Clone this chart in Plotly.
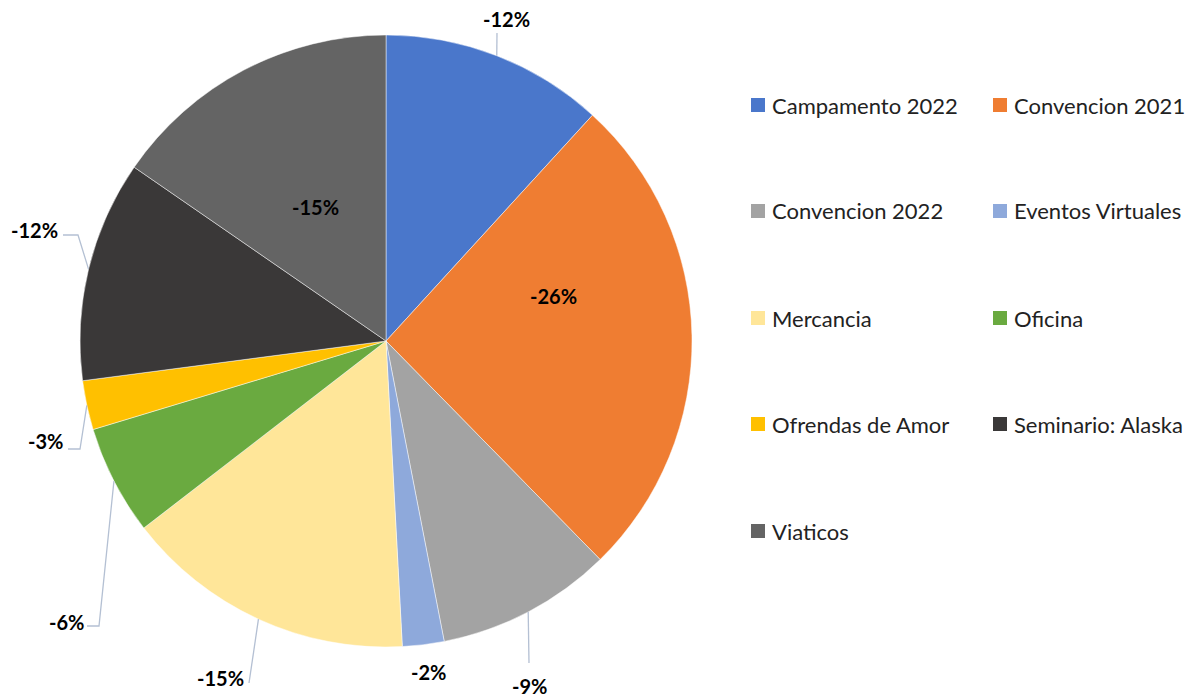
import math
import plotly.graph_objects as go

# ---------------- data ----------------
categories = ["Campamento 2022", "Convencion 2021", "Convencion 2022", "Eventos Virtuales",
              "Mercancia", "Oficina", "Ofrendas de Amor", "Seminario: Alaska", "Viaticos"]
values = [-11.8, -25.9, -9.3, -2.2, -15.4, -5.8, -2.6, -11.7, -15.4]

# ---------------- style ----------------
colors = ["#4A77CB", "#EF7D32", "#A3A3A3", "#8EA9DB", "#FFE699",
          "#6AAA40", "#FFC000", "#3A3838", "#646464"]

OFF = 8                      # page body margin
W, H = 1194 - OFF, 698 - OFF
CX, CY, R = 386, 341, 306    # pie center/radius in page pixels (layout)

# label centre (page px) and leader elbow points (page px) per slice; None = no leader
label_pos = [(506, 19), (553, 296), (529, 686), (428, 672), (220, 678),
             (66, 622), (45, 441), (34, 230), (315, 207)]
leaders = [[(497, 33)], None, [(529, 663)], None, [(249, 683)],
           [(99, 626), (87, 626)], [(80, 449), (68, 449)], [(78, 235), (63, 235)], None]

legend_cols = [751, 993]
legend_rows = [105, 211, 318, 424, 531]


def px(x):
    return (x - OFF) / W


def py(y):
    return 1 - (y - OFF) / H


abs_vals = [abs(v) for v in values]
total = sum(abs_vals)

fig = go.Figure(go.Pie(
    labels=categories,
    values=abs_vals,
    sort=False,
    direction="clockwise",
    rotation=0,
    textinfo="none",
    hoverinfo="label+percent",
    marker=dict(colors=colors, line=dict(color="rgba(255,255,255,0.6)", width=0.8)),
    domain=dict(x=[px(CX - R), px(CX + R)], y=[py(CY + R), py(CY - R)]),
    showlegend=False,
))

annotations = []
shapes = []
cum = 0
for i, v in enumerate(abs_vals):
    mid = (cum + v / 2) / total * 2 * math.pi
    cum += v
    ex = CX + R * math.sin(mid)
    ey = CY - R * math.cos(mid)
    pct = round(values[i] / total * 100)
    annotations.append(dict(
        x=px(label_pos[i][0]), y=py(label_pos[i][1]), xref="paper", yref="paper",
        text=f"<b>{pct}%</b>", showarrow=False, xanchor="center", yanchor="middle",
        font=dict(family="Lato", size=20, color="#000000")))
    if leaders[i]:
        pts = [(ex, ey)] + leaders[i]
        path = "M " + " L ".join(f"{px(a)},{py(b)}" for a, b in pts)
        shapes.append(dict(type="path", path=path, xref="paper", yref="paper",
                           line=dict(color="#B4C0D3", width=1.3)))

# manual legend (2 columns)
for i, cat in enumerate(categories):
    col = legend_cols[i % 2]
    row = legend_rows[i // 2]
    shapes.append(dict(type="rect", xref="paper", yref="paper",
                       x0=px(col), x1=px(col + 14), y0=py(row + 7), y1=py(row - 7),
                       fillcolor=colors[i], line=dict(width=0)))
    annotations.append(dict(x=px(col + 19), y=py(row), xref="paper", yref="paper",
                            text=cat, showarrow=False, xanchor="left", yanchor="middle",
                            font=dict(family="Lato", size=22, color="#222222")))

fig.update_layout(
    width=W, height=H,
    margin=dict(l=0, r=0, t=0, b=0),
    paper_bgcolor="white", plot_bgcolor="white",
    annotations=annotations, shapes=shapes,
)

fig.write_html("out.html")
